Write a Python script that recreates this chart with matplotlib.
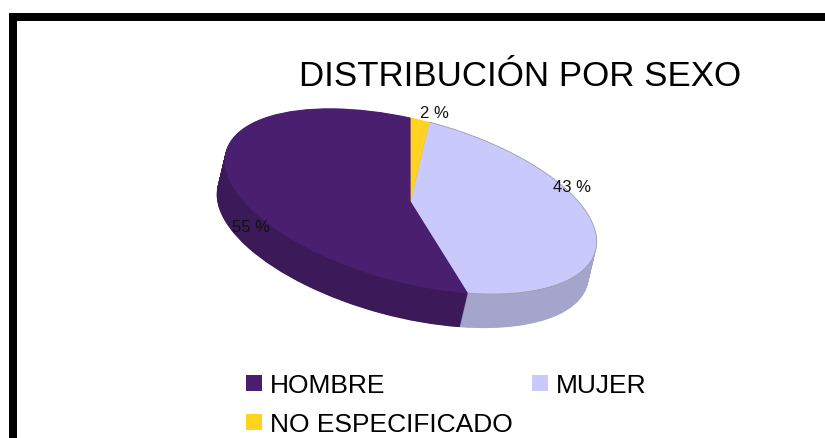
import numpy as np
import matplotlib
matplotlib.use("Agg")
import matplotlib.pyplot as plt
from matplotlib.patches import Rectangle, Patch
from matplotlib.transforms import Affine2D

plt.rcParams['font.family'] = ['Liberation Sans', 'DejaVu Sans']

categories = ["HOMBRE", "MUJER", "NO ESPECIFICADO"]
values = [55.0, 43.4, 1.6]
value_labels = ["55 %", "43 %", "2 %"]
top_colors = ["#4b1f6f", "#c9c9fb", "#ffd320"]
side_colors = ["#3c1958", "#a5a5cb", "#ccA91a"]
title = "DISTRIBUCIÓN POR SEXO"

W, H = 825, 439
fig = plt.figure(figsize=(W / 100, H / 100), dpi=100, facecolor="white")
ax = fig.add_axes([0, 0, 1, 1])

# Tilted disc: unit circle -> pixel coordinates (y down)
cx, cy = 410.7, 202.2
ux, uy = 186.0, 40.5
vx, vy = 0.0, -83.6
disc = Affine2D(np.array([[ux, vx, cx], [uy, vy, cy], [0, 0, 1]], dtype=float))
depth_x, depth_y = -8.0, 34.0

def draw_pie(colors, shift, z):
    wedges, _ = ax.pie(values, startangle=90, counterclock=True, colors=colors,
                       radius=1, wedgeprops=dict(linewidth=0, antialiased=True))
    tr = disc + Affine2D().translate(depth_x * shift, depth_y * shift) + ax.transData
    for w in wedges:
        w.set_transform(tr)
        w.set_zorder(z)
        w.set_clip_on(False)
    return wedges

steps = 68
for i in range(steps, 0, -1):
    draw_pie(side_colors, i / steps, 2 + (steps - i) * 0.001)
top = draw_pie(top_colors, 0, 3)

# Thin rim along the light slice
a0 = np.deg2rad(90 + 3.6 * values[0])
a1 = np.deg2rad(90 + 3.6 * (values[0] + values[1]))
arc = np.linspace(a0, a1, 200)
ax.plot(np.cos(arc), np.sin(arc), color="#9d9daa", lw=0.6, zorder=3.5,
        transform=disc + ax.transData, clip_on=False)

ax.set_aspect("auto")
ax.set_xlim(0, W)
ax.set_ylim(H, 0)
ax.axis("off")

# Frame (left and top only reach the picture)
ax.add_patch(Rectangle((9, 14), 8, H - 14, fc="black", ec="none", zorder=5))
ax.add_patch(Rectangle((9, 14), W - 9, 8, fc="black", ec="none", zorder=5))

ax.text(520, 76, title, fontsize=25.1, ha="center", va="center", color="black", zorder=6)

label_pos = [(251.5, 228), (572, 188), (434, 114)]
for (x, y), s in zip(label_pos, value_labels):
    ax.text(x, y, s, fontsize=12, ha="center", va="center", color="#111111", zorder=6)

order = [0, 2, 1]
handles = [Patch(facecolor=top_colors[i], edgecolor="none", label=categories[i]) for i in order]
leg = ax.legend(handles=handles, ncol=2, frameon=False, fontsize=19,
                loc="lower left", bbox_to_anchor=(246 / W, 1 - 437 / H),
                borderpad=0, borderaxespad=0, handlelength=0.61, handleheight=0.55,
                handletextpad=0.29, columnspacing=0.75, labelspacing=0.56)
leg.set_zorder(6)

fig.savefig("out.png", dpi=100)
